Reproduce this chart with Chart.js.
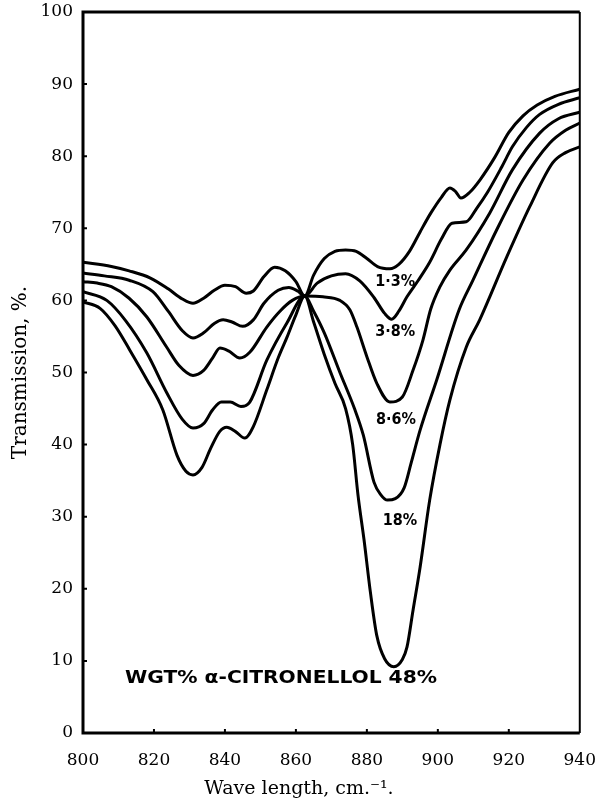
<!DOCTYPE html>
<html>
<head>
<meta charset="utf-8">
<script src="https://cdn.jsdelivr.net/npm/chart.js@4.4.0/dist/chart.umd.min.js"></script>
<style>
  html, body { margin: 0; background: #fff; overflow: hidden; }
  #wrap { width: 597px; height: 802px; position: relative; }
</style>
</head>
<body>
<div id="wrap"><canvas id="myChart"></canvas></div>
<script>
// transmission curves (wave number cm-1 / transmission %)
var wave13  = [800, 808, 813, 819, 824, 828, 831, 834, 837, 840, 843, 846, 848, 851, 854, 857, 860, 862.5, 865, 868, 871, 874, 877, 880, 883, 886.5, 889, 892, 895, 898, 901, 903.4, 905, 906.5, 909, 912, 916, 920, 924, 928, 933, 940];
var trans13 = [65.3, 64.7, 64.1, 63.1, 61.6, 60.2, 59.6, 60.3, 61.4, 62.1, 61.9, 61.0, 61.3, 63.3, 64.6, 64.1, 62.6, 60.6, 63.5, 65.8, 66.8, 67.0, 66.8, 65.8, 64.7, 64.4, 65.0, 66.8, 69.5, 72.1, 74.3, 75.6, 75.1, 74.2, 75.0, 76.8, 79.8, 83.3, 85.6, 87.1, 88.3, 89.3];

var wave38  = [800, 806, 813, 819.7, 824, 828, 831, 834, 837, 839.5, 842, 845, 848, 851, 855, 858, 860.5, 862.5, 866, 870, 874, 878, 882, 885, 887, 889, 891.3, 894.5, 897.7, 901, 904, 908, 911, 914, 918, 921, 925, 928.7, 934, 940];
var trans38 = [63.8, 63.4, 62.8, 61.2, 58.5, 55.8, 54.8, 55.5, 56.8, 57.3, 57.0, 56.4, 57.3, 59.6, 61.4, 61.8, 61.3, 60.6, 62.4, 63.4, 63.7, 62.7, 60.4, 58.2, 57.4, 58.5, 60.5, 62.8, 65.3, 68.5, 70.7, 70.9, 72.8, 75.0, 78.5, 81.3, 84.0, 85.8, 87.2, 88.1];

var wave86  = [800, 804, 808, 813, 818, 823.6, 827, 831, 834, 836.5, 838.6, 841, 844.2, 847, 851.8, 855.5, 859, 862.5, 867.6, 872.4, 875.2, 877.2, 880, 882.8, 886.5, 890, 893, 895.8, 898, 900.5, 903.4, 908, 914.6, 921, 928.7, 934, 940];
var trans86 = [62.6, 62.4, 61.9, 60.3, 57.7, 53.5, 51.0, 49.6, 50.3, 52.0, 53.4, 53.0, 52.0, 52.8, 56.3, 58.5, 60.0, 60.6, 60.5, 60.0, 58.7, 56.3, 52.2, 48.5, 45.9, 46.6, 50.3, 54.5, 58.8, 61.8, 64.2, 67.0, 72.1, 78.1, 83.2, 85.2, 86.1];

var wave18  = [800, 806.7, 812, 818, 823.6, 828, 831, 834, 836.5, 839, 841.5, 844.5, 847, 851.8, 857.5, 862.5, 865, 868, 872.4, 876.5, 879, 882, 884, 885.8, 888, 890.5, 892.5, 895, 899.7, 906, 909.9, 916.6, 924, 931.5, 936, 940];
var trans18 = [61.2, 60.0, 57.2, 52.7, 47.2, 43.5, 42.3, 42.9, 44.8, 45.9, 45.9, 45.3, 45.9, 51.7, 56.9, 60.6, 58.5, 55.5, 50.0, 45.0, 41.3, 34.8, 33.0, 32.3, 32.5, 34.0, 37.5, 42.0, 49.0, 58.7, 62.8, 69.8, 76.7, 81.8, 83.6, 84.6];

var wave48  = [800, 804.8, 809, 813.2, 818, 822.5, 826.5, 829, 831, 833.5, 836, 838.5, 840.5, 843, 845.6, 848, 851.8, 855, 857.5, 860, 862.5, 865, 868, 871, 874, 876, 877.5, 879.2, 881, 882.8, 885, 887.6, 890, 891.3, 893, 895, 897.7, 900.6, 903.4, 908, 911.8, 919.4, 925.9, 932.4, 936, 940];
var trans48 = [59.8, 58.9, 56.5, 53.1, 49.0, 44.8, 38.5, 36.3, 35.8, 36.8, 39.5, 41.8, 42.4, 41.8, 40.9, 42.5, 47.6, 52.0, 54.9, 58.0, 60.6, 57.0, 52.5, 48.5, 45.0, 40.0, 33.0, 26.8, 19.5, 13.5, 10.3, 9.2, 10.2, 11.9, 17.0, 23.0, 32.3, 40.0, 46.2, 53.5, 57.3, 66.0, 73.0, 79.1, 80.5, 81.3];

var seriesNames = ['1·3%', '3·8%', '8·6%', '18%', '48%'];
var waves  = [wave13, wave38, wave86, wave18, wave48];
var trans  = [trans13, trans38, trans86, trans18, trans48];

var xTicks = [800, 820, 840, 860, 880, 900, 920, 940];
var yTicks = [0, 10, 20, 30, 40, 50, 60, 70, 80, 90, 100];

var datasets = seriesNames.map(function (name, i) {
    return {
        label: name,
        data: waves[i].map(function (w, j) { return { x: w, y: trans[i][j] }; }),
        borderColor: '#000',
        borderWidth: 3,
        pointRadius: 0,
        fill: false,
        cubicInterpolationMode: 'monotone'
    };
});

// labels written on the plot, anchored in data units
var notes = [
    { text: '1·3%', x: 888, y: 62.6, size: 16 },
    { text: '3·8%', x: 888, y: 55.6, size: 16 },
    { text: '8·6%', x: 888.2, y: 43.5, size: 16 },
    { text: '18%',  x: 889.3, y: 29.4, size: 16 },
    { text: 'WGT% α-CITRONELLOL 48%', x: 855.8, y: 7.6, size: 18, width: 312 }
];

var frame = {
    id: 'frame',
    afterDatasetsDraw: function (chart) {
        var a = chart.chartArea, c = chart.ctx;
        var xs = chart.scales.x, ys = chart.scales.y;
        c.save();
        c.strokeStyle = '#000';
        c.lineWidth = 3;
        c.beginPath();
        c.moveTo(a.right, a.top);
        c.lineTo(a.left, a.top);
        c.lineTo(a.left, a.bottom);
        c.lineTo(a.right, a.bottom);
        c.stroke();
        c.lineWidth = 2;
        c.beginPath();
        c.moveTo(a.right, a.top);
        c.lineTo(a.right, a.bottom);
        c.stroke();

        // small inward ticks
        c.beginPath();
        yTicks.forEach(function (t) {
            if (t == 0 || t == 100) return;
            var py = ys.getPixelForValue(t);
            c.moveTo(a.left, py);
            c.lineTo(a.left + 4, py);
        });
        xTicks.forEach(function (t) {
            if (t == 800 || t == 940) return;
            var px = xs.getPixelForValue(t);
            c.moveTo(px, a.bottom);
            c.lineTo(px, a.bottom - 4);
        });
        c.stroke();

        c.fillStyle = '#000';
        c.textAlign = 'center';
        c.textBaseline = 'middle';
        notes.forEach(function (n) {
            c.font = 'bold ' + n.size + 'px "DejaVu Sans Condensed", "DejaVu Sans", sans-serif';
            var px = xs.getPixelForValue(n.x), py = ys.getPixelForValue(n.y);
            var w = c.measureText(n.text).width;
            c.save();
            c.translate(px, py);
            if (n.width) c.scale(n.width / w, 1);
            c.fillText(n.text, 0, 0);
            c.restore();
        });

        // x axis title (sits left of centre in the original)
        c.font = '19px "DejaVu Serif", serif';
        c.fillText('Wave length, cm.⁻¹.', 299, 789);
        c.restore();
    }
};

var serif = { family: '"DejaVu Serif", serif', size: 17 };

var ctx = document.getElementById('myChart').getContext('2d');
var myChart = new Chart(ctx, {
    type: 'line',
    data: { datasets: datasets },
    options: {
        responsive: true,
        maintainAspectRatio: false,
        animation: false,
        layout: { padding: { top: 12, right: 0, bottom: 0, left: 0 } },
        plugins: { legend: { display: false }, tooltip: { enabled: false } },
        scales: {
            x: {
                type: 'linear',
                min: 800, max: 940,
                afterBuildTicks: function (s) { s.ticks = xTicks.map(function (v) { return { value: v }; }); },
                afterFit: function (s) { s.height = 69; },
                grid: { display: false, drawTicks: true, tickLength: 16 },
                border: { display: false },
                ticks: { color: '#000', font: serif, padding: 1, maxRotation: 0, autoSkip: false }
            },
            y: {
                min: 0, max: 100,
                afterBuildTicks: function (s) { s.ticks = yTicks.map(function (v) { return { value: v }; }); },
                afterFit: function (s) { s.width = 83; },
                grid: { display: false, drawTicks: true, tickLength: 10 },
                border: { display: false },
                ticks: { color: '#000', font: serif, padding: 0, autoSkip: false },
                title: { display: true, text: 'Transmission, %.', color: '#000', font: { family: '"DejaVu Serif", serif', size: 20 }, padding: { top: 9, bottom: 0 } }
            }
        }
    },
    plugins: [frame]
});
</script>
</body>
</html>
